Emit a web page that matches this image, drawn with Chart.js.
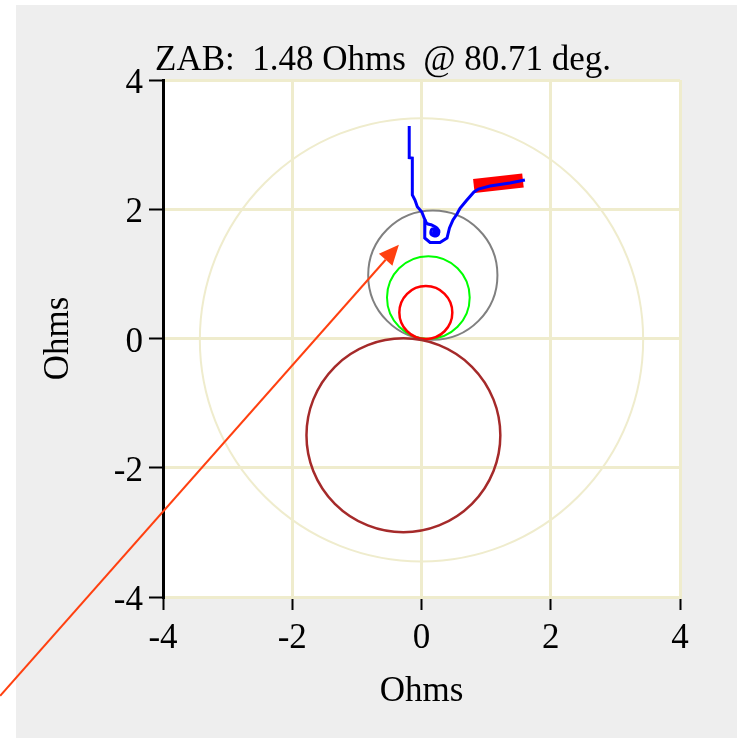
<!DOCTYPE html>
<html>
<head>
<meta charset="utf-8">
<script src="https://cdn.jsdelivr.net/npm/chart.js@4.4.1/dist/chart.umd.min.js"></script>
<style>
  html, body { margin: 0; padding: 0; background: #fff; }
  #panel { position: absolute; left: 16px; top: 5px; width: 721px; height: 733px; background: #eeeeee; }
  #wrap { position: absolute; left: 0; top: 0; width: 737px; height: 738px; }
</style>
</head>
<body>
<div id="panel"></div>
<div id="wrap"><canvas id="myChart"></canvas></div>
<script>
// chart text
const titleText = 'ZAB:  1.48 Ohms  @ 80.71 deg.';
const axisTitle = 'Ohms';
const xTicks = [-4, -2, 0, 2, 4];
const yTicks = [-4, -2, 0, 2, 4];

// impedance trajectory (blue)
const pathX = [-0.19, -0.19, -0.142, -0.142, -0.101, -0.065, 0.003, 0.054, 0.046, 0.054, 0.132, 0.286, 0.395, 0.433, 0.487, 0.549, 0.596, 0.696, 0.812, 0.882, 1.06, 1.369, 1.60];
const pathY = [3.288, 2.798, 2.793, 2.221, 2.143, 2.039, 1.962, 1.834, 1.71, 1.555, 1.486, 1.486, 1.555, 1.71, 1.834, 1.926, 2.015, 2.135, 2.267, 2.313, 2.36, 2.406, 2.453];
// small spiral at the end point
const spiralX = [0.054, 0.085, 0.162, 0.24, 0.27, 0.224, 0.147, 0.162, 0.232, 0.224];
const spiralY = [1.834, 1.78, 1.756, 1.71, 1.648, 1.586, 1.617, 1.694, 1.663, 1.632];
// red band at upper right
const bandX = [0.81, 1.57];
const bandY = [2.36, 2.445];

// characteristic circles: centre x, centre y, radius (Ohms)
const circleX = [0, 0.175, 0.106, 0.067, -0.28];
const circleY = [-0.02, 0.98, 0.634, 0.402, -1.498];
const circleR = [3.43, 1.0, 0.64, 0.41, 1.5];
const circleColors = ['#efeccd', '#808080', '#00ff00', '#ff0000', '#a52a2a'];
const circleWidths = [2, 2, 2, 2.5, 2.5];

// annotation arrow (Ohms)
const arrowFrom = [-6.52, -5.53];
const arrowTo = [-0.35, 1.45];

const cream = '#efeccd';
const font = { family: '"Liberation Serif", "Times New Roman", serif', size: 35 };

const toPts = (xs, ys) => xs.map((x, i) => ({ x: x, y: ys[i] }));

const bgPlugin = {
  id: 'bg',
  beforeDraw(chart) {
    const a = chart.chartArea, ctx = chart.ctx;
    ctx.save();
    ctx.fillStyle = '#ffffff';
    ctx.fillRect(a.left, a.top, a.right - a.left, a.bottom - a.top);
    ctx.restore();
  }
};

const circlePlugin = {
  id: 'circles',
  beforeDatasetsDraw(chart) {
    const ctx = chart.ctx, xs = chart.scales.x, ys = chart.scales.y, a = chart.chartArea;
    ctx.save();
    ctx.beginPath();
    ctx.rect(a.left, a.top, a.right - a.left, a.bottom - a.top);
    ctx.clip();
    circleX.forEach((cx, i) => {
      const px = xs.getPixelForValue(cx);
      const py = ys.getPixelForValue(circleY[i]);
      const r = xs.getPixelForValue(cx + circleR[i]) - px;
      ctx.beginPath();
      ctx.arc(px, py, r, 0, Math.PI * 2);
      ctx.strokeStyle = circleColors[i];
      ctx.lineWidth = circleWidths[i];
      ctx.stroke();
    });
    ctx.restore();
  }
};

const overlayPlugin = {
  id: 'overlay',
  afterDraw(chart) {
    const ctx = chart.ctx, xs = chart.scales.x, ys = chart.scales.y;
    ctx.save();
    // title
    ctx.font = font.size + 'px ' + font.family;
    ctx.fillStyle = '#000';
    ctx.textAlign = 'left';
    ctx.textBaseline = 'alphabetic';
    ctx.fillText(titleText, 155, 69.5);
    // arrow
    const x0 = xs.getPixelForValue(arrowFrom[0]), y0 = ys.getPixelForValue(arrowFrom[1]);
    const x1 = xs.getPixelForValue(arrowTo[0]), y1 = ys.getPixelForValue(arrowTo[1]);
    const ang = Math.atan2(y1 - y0, x1 - x0);
    const len = 20, hw = 9;
    const bx = x1 - len * Math.cos(ang), by = y1 - len * Math.sin(ang);
    ctx.strokeStyle = '#ff4010';
    ctx.fillStyle = '#ff4010';
    ctx.lineWidth = 2;
    ctx.beginPath();
    ctx.moveTo(x0, y0);
    ctx.lineTo(bx, by);
    ctx.stroke();
    ctx.beginPath();
    ctx.moveTo(x1, y1);
    ctx.lineTo(bx + hw * Math.sin(ang), by - hw * Math.cos(ang));
    ctx.lineTo(bx - hw * Math.sin(ang), by + hw * Math.cos(ang));
    ctx.closePath();
    ctx.fill();
    ctx.restore();
  }
};

const ctx = document.getElementById('myChart').getContext('2d');
const myChart = new Chart(ctx, {
  type: 'scatter',
  data: {
    datasets: [
      { data: toPts(pathX, pathY), showLine: true, borderColor: '#0000ff', borderWidth: 3, pointRadius: 0, tension: 0 },
      { data: toPts(spiralX, spiralY), showLine: true, borderColor: '#0000ff', borderWidth: 3, pointRadius: 0, tension: 0.3 },
      { data: [{ x: spiralX[spiralX.length - 1], y: spiralY[spiralY.length - 1] }], pointRadius: 4, pointBackgroundColor: '#0000ff', pointBorderWidth: 0 },
      { data: toPts(bandX, bandY), showLine: true, borderColor: '#ff0000', borderWidth: 14, borderCapStyle: 'butt', pointRadius: 0 }
    ]
  },
  options: {
    responsive: true,
    maintainAspectRatio: false,
    animation: false,
    layout: { padding: { left: 0, right: 57, top: 80, bottom: 0 } },
    plugins: { legend: { display: false }, tooltip: { enabled: false }, title: { display: false } },
    scales: {
      x: {
        type: 'linear', min: -4, max: 4,
        afterBuildTicks: s => { s.ticks = xTicks.map(v => ({ value: v })); },
        afterFit: s => { s.height = 141; },
        grid: { color: cream, lineWidth: 3, tickColor: '#000', tickWidth: 2, tickLength: 13 },
        border: { color: cream, width: 3 },
        ticks: { color: '#000', font: font, padding: 8, maxRotation: 0 },
        title: { display: true, text: axisTitle, color: '#000', font: font, padding: { top: 0, bottom: 25 } }
      },
      y: {
        type: 'linear', min: -4, max: 4,
        afterBuildTicks: s => { s.ticks = yTicks.map(v => ({ value: v })); },
        afterFit: s => { s.width = 163; },
        grid: { color: cream, lineWidth: 3, tickColor: '#000', tickWidth: 2, tickLength: 14 },
        border: { color: '#000', width: 3 },
        ticks: { color: '#000', font: font, padding: 6, labelOffset: 4 },
        title: { display: true, text: axisTitle, color: '#000', font: font, padding: { top: 38, bottom: 0 } }
      }
    }
  },
  plugins: [bgPlugin, circlePlugin, overlayPlugin]
});
</script>
</body>
</html>
